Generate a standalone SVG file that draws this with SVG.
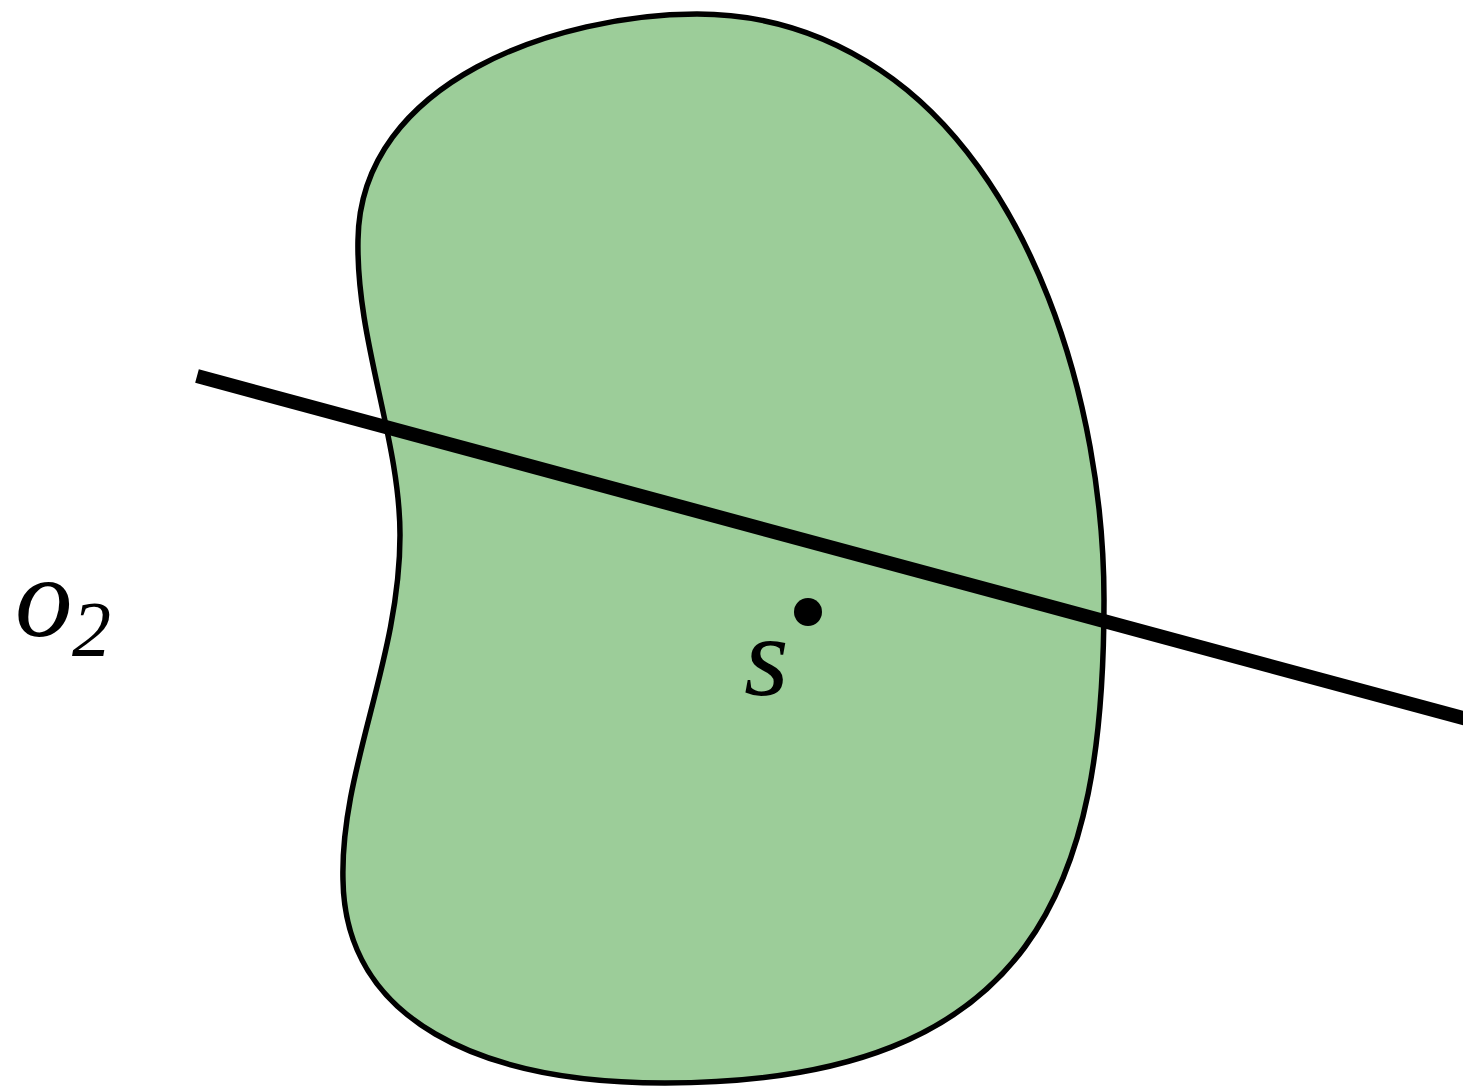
<svg xmlns="http://www.w3.org/2000/svg" width="1463" height="1088" viewBox="0 0 1463 1088">
<style>
.lbl{font-family:"Liberation Serif","DejaVu Serif",serif;font-style:italic;fill:#000}
</style>
<rect width="1463" height="1088" fill="#fff"/>
<g id="region">
<path d="M 697,14 C 560,14 360,80 358,240 C 356,340 400,440 400,535 C 400,660 340,770 343,880 C 345,1020 480,1083 665,1083 C 1040,1083 1104,880 1104,600 C 1104,400 1030,170 880,70 C 820,30 760,14 697,14 Z" fill="#9ccd99" stroke="#000" stroke-width="5.5"/>
</g>
<g id="connectors">
<line x1="197" y1="376" x2="1470" y2="720" stroke="#000" stroke-width="14"/>
</g>
<g id="point-s">
<circle cx="808" cy="612" r="14" fill="#000"/>
<text class="lbl" x="744" y="695" font-size="115">s</text>
</g>
<g id="label-o2">
<text class="lbl" x="15" y="636" font-size="115">o</text>
<text class="lbl" x="72" y="655" font-size="78" font-style="normal">2</text>
</g>
</svg>
